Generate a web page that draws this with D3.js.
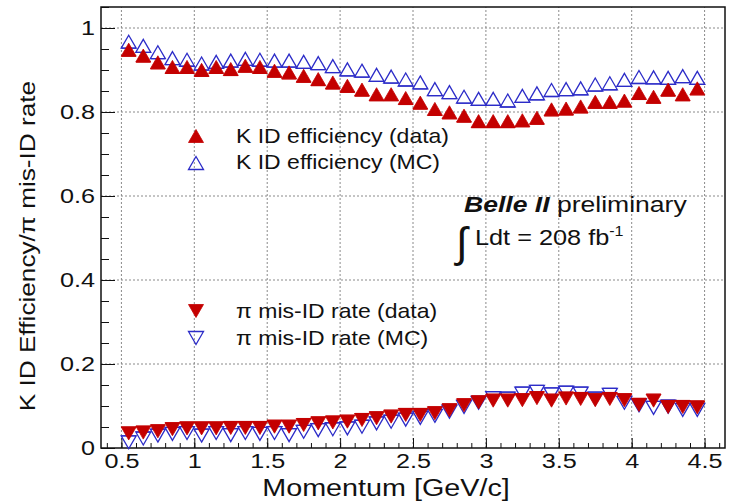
<!DOCTYPE html>
<html>
<head>
<meta charset="utf-8">
<script src="https://cdn.jsdelivr.net/npm/d3@7"></script>
<style>
  body { margin: 0; background: #fff; }
  svg { display: block; }
  text { font-family: "Liberation Sans", Arial, Helvetica, sans-serif; fill: #111; }
</style>
</head>
<body>
<svg id="chart"></svg>
<script>
// bin centres (GeV/c)
const momentum = [0.55, 0.65, 0.75, 0.85, 0.95, 1.05, 1.15, 1.25, 1.35, 1.45,
	1.55, 1.65, 1.75, 1.85, 1.95, 2.05, 2.15, 2.25, 2.35, 2.45,
	2.55, 2.65, 2.75, 2.85, 2.95, 3.05, 3.15, 3.25, 3.35, 3.45,
	3.55, 3.65, 3.75, 3.85, 3.95, 4.05, 4.15, 4.25, 4.35, 4.45];

const kEffData = [0.946, 0.932, 0.916, 0.905, 0.905, 0.898, 0.905, 0.900, 0.908, 0.905,
	0.896, 0.892, 0.884, 0.876, 0.868, 0.860, 0.851, 0.840, 0.840, 0.831,
	0.820, 0.805, 0.797, 0.789, 0.776, 0.776, 0.776, 0.778, 0.784, 0.804,
	0.806, 0.811, 0.822, 0.822, 0.825, 0.843, 0.834, 0.851, 0.840, 0.854];

const kEffMC = [0.965, 0.955, 0.940, 0.926, 0.922, 0.913, 0.917, 0.920, 0.924, 0.922,
	0.920, 0.920, 0.917, 0.914, 0.907, 0.899, 0.896, 0.886, 0.882, 0.875,
	0.868, 0.852, 0.845, 0.834, 0.829, 0.829, 0.825, 0.836, 0.842, 0.850,
	0.852, 0.854, 0.863, 0.866, 0.874, 0.881, 0.880, 0.879, 0.883, 0.879];

const piMisData = [0.037, 0.039, 0.042, 0.047, 0.049, 0.049, 0.049, 0.050, 0.050, 0.050,
	0.053, 0.053, 0.057, 0.061, 0.063, 0.065, 0.069, 0.073, 0.077, 0.081,
	0.081, 0.085, 0.092, 0.104, 0.111, 0.115, 0.115, 0.116, 0.121, 0.115,
	0.120, 0.119, 0.116, 0.119, 0.116, 0.105, 0.115, 0.100, 0.100, 0.099];

const piMisMC = [0.016, 0.025, 0.032, 0.036, 0.038, 0.032, 0.038, 0.033, 0.038, 0.036,
	0.038, 0.033, 0.041, 0.045, 0.047, 0.049, 0.053, 0.061, 0.065, 0.070,
	0.074, 0.079, 0.089, 0.100, 0.110, 0.121, 0.120, 0.132, 0.136, 0.130,
	0.134, 0.132, 0.120, 0.129, 0.110, 0.104, 0.098, 0.101, 0.093, 0.093];

const binHalfWidth = 0.05;

const xTicks = [0.5, 1, 1.5, 2, 2.5, 3, 3.5, 4, 4.5];
const yTicks = [0, 0.2, 0.4, 0.6, 0.8, 1];

const legendLabels = [
	'K ID efficiency (data)',
	'K ID efficiency (MC)',
	'\u03c0 mis-ID rate (data)',
	'\u03c0 mis-ID rate (MC)'
];

const width = 729, height = 503;
const RED = "#c40000", BLUE = "#2c2cc8";
const SX = 1.2; // reference text is wide; stretch glyphs horizontally

const svg = d3.select("#chart").attr("width", width).attr("height", height);

const x = d3.scaleLinear().domain([0.36, 4.64]).range([101, 725]);
const y = d3.scaleLinear().domain([0, 1.05]).range([448, 7]);

// grid
const grid = svg.append("g").attr("stroke", "#8a8a8a").attr("stroke-width", 1).attr("stroke-dasharray", "2,2");
grid.selectAll(".gx").data(xTicks).join("line")
	.attr("x1", d => x(d)).attr("x2", d => x(d))
	.attr("y1", y.range()[0]).attr("y2", y.range()[1]);
grid.selectAll(".gy").data(yTicks.filter(d => d > 0)).join("line")
	.attr("x1", x.range()[0]).attr("x2", x.range()[1])
	.attr("y1", d => y(d)).attr("y2", d => y(d));

// axes: ticks drawn inward like ROOT
const xMinor = d3.range(0.4, 4.65, 0.1).map(d => +d.toFixed(2));
const yMinor = d3.range(0, 1.051, 0.05).map(d => +d.toFixed(2));

svg.append("g").attr("transform", `translate(0,${y(0)})`)
	.call(d3.axisBottom(x).tickValues(xMinor).tickSizeInner(-5).tickSizeOuter(0).tickFormat(""))
	.call(g => g.select(".domain").remove());
svg.append("g").attr("transform", `translate(${x.range()[0]},0)`)
	.call(d3.axisLeft(y).tickValues(yMinor).tickSizeInner(-8).tickSizeOuter(0).tickFormat(""))
	.call(g => g.select(".domain").remove());

const xAxis = svg.append("g").attr("transform", `translate(0,${y(0)})`)
	.call(d3.axisBottom(x).tickValues(xTicks).tickSizeInner(-10).tickSizeOuter(0).tickPadding(6).tickFormat(d3.format("")))
	.call(g => g.select(".domain").remove());
xAxis.selectAll("text").attr("font-size", 21).attr("dy", "0.78em")
	.attr("x", 0).attr("y", 0)
	.attr("transform", `translate(0,4) scale(${SX},1)`);

const yAxis = svg.append("g").attr("transform", `translate(${x.range()[0]},0)`)
	.call(d3.axisLeft(y).tickValues(yTicks).tickSizeInner(-14).tickSizeOuter(0).tickPadding(6).tickFormat(d3.format("")))
	.call(g => g.select(".domain").remove());
yAxis.selectAll("text").attr("font-size", 21)
	.attr("x", 0).attr("transform", `translate(-6,0) scale(${SX},1)`);

svg.selectAll(".tick line").attr("stroke", "#111").attr("stroke-width", 1);
svg.selectAll(".tick text").attr("fill", "#111");

// frame
svg.append("rect")
	.attr("x", x.range()[0]).attr("y", y.range()[1])
	.attr("width", x.range()[1] - x.range()[0]).attr("height", y.range()[0] - y.range()[1])
	.attr("fill", "none").attr("stroke", "#111").attr("stroke-width", 1.5);

// markers
const up = "M0,-7.5L7.5,5.5L-7.5,5.5Z";
const down = "M0,7.5L7.5,-5.5L-7.5,-5.5Z";

const drawSeries = (values, shape, color, filled) => {
	const g = svg.append("g");
	const pts = momentum.map((m, i) => ({m: m, v: values[i]}));
	const off = shape === up ? 5.5 : -5.5;
	g.selectAll("line").data(pts).join("line")
		.attr("x1", d => x(d.m - binHalfWidth)).attr("x2", d => x(d.m + binHalfWidth))
		.attr("y1", d => y(d.v) + off).attr("y2", d => y(d.v) + off)
		.attr("stroke", color).attr("stroke-width", 1.2);
	g.selectAll("path").data(pts).join("path")
		.attr("d", shape)
		.attr("transform", d => `translate(${x(d.m)},${y(d.v)})`)
		.attr("fill", filled ? color : "none")
		.attr("stroke", color)
		.attr("stroke-width", filled ? 0.8 : 1.3);
};

drawSeries(kEffMC, up, BLUE, false);
drawSeries(kEffData, up, RED, true);
drawSeries(piMisMC, down, BLUE, false);
drawSeries(piMisData, down, RED, true);

// legend
const legend = [
	{label: legendLabels[0], shape: up, color: RED, filled: true, my: 137, ty: 143},
	{label: legendLabels[1], shape: up, color: BLUE, filled: false, my: 164, ty: 169},
	{label: legendLabels[2], shape: down, color: RED, filled: true, my: 310, ty: 318},
	{label: legendLabels[3], shape: down, color: BLUE, filled: false, my: 337, ty: 345}
];
legend.forEach(l => {
	svg.append("path").attr("d", l.shape)
		.attr("transform", `translate(196,${l.my})`)
		.attr("fill", l.filled ? l.color : "none")
		.attr("stroke", l.color).attr("stroke-width", l.filled ? 0.8 : 1.3);
	svg.append("text").text(l.label)
		.attr("font-size", 20)
		.attr("transform", `translate(236,${l.ty}) scale(${SX - 0.05},1)`);
});

// Belle II label
const belle = svg.append("text").attr("font-size", 22.5)
	.attr("transform", `translate(464,212) scale(1.18,1)`);
belle.append("tspan").attr("font-weight", "bold").attr("font-style", "italic").text("Belle II");
belle.append("tspan").text(" preliminary");

svg.append("text").text("\u222b").attr("font-size", 42)
	.attr("transform", `translate(456,257)`);
const lumi = svg.append("text").attr("font-size", 22)
	.attr("transform", `translate(475,245) scale(1.15,1)`);
lumi.append("tspan").text("Ldt = 208 fb");
lumi.append("tspan").attr("font-size", 14).attr("dy", -9).text("-1");

// axis titles
svg.append("text").text("Momentum [GeV/c]")
	.attr("font-size", 23).attr("text-anchor", "middle")
	.attr("transform", `translate(386,496) scale(1.25,1)`);

svg.append("text").text("K ID Efficiency/\u03c0 mis-ID rate")
	.attr("font-size", 22).attr("text-anchor", "middle")
	.attr("transform", `translate(35,246) rotate(-90) scale(1.19,1)`);
</script>
</body>
</html>
